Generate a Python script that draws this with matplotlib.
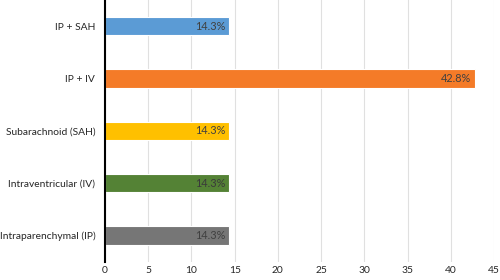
import matplotlib.pyplot as plt

plt.rcParams['font.family'] = ['Lato', 'DejaVu Sans']

# categories listed bottom to top
categories = ['Intraparenchymal (IP)', 'Intraventricular (IV)', 'Subarachnoid (SAH)',
              'IP + IV', 'IP + SAH']
values = [14.3, 14.3, 14.3, 42.8, 14.3]
labels = ['14.3%', '14.3%', '14.3%', '42.8%', '14.3%']
colors = ['#767676', '#548235', '#FFC000', '#F47B28', '#5B9BD5']
label_colors = ['#404040', '#3a3a3a', '#404040', '#404040', '#404040']

fig = plt.figure(figsize=(5, 2.8), dpi=100)
ax = fig.add_axes([0.21, 0.065, 0.778, 0.935])

ypos = range(len(categories))
ax.barh(ypos, values, height=0.35, color=colors, edgecolor='white', linewidth=0.8, zorder=3)
for y, v, lab, c in zip(ypos, values, labels, label_colors):
    ax.text(v - 0.4, y, lab, ha='right', va='center', fontsize=7.8, color=c, zorder=4)

ax.set_xlim(0, 45)
ax.set_ylim(-0.5, len(categories) - 0.5)
ax.set_xticks(range(0, 50, 5))
ax.set_yticks(list(ypos))
ax.set_yticklabels(categories)
ax.tick_params(axis='both', length=0, labelsize=7.4, colors='#262626')
ax.tick_params(axis='y', pad=7)
ax.tick_params(axis='x', pad=3)
ax.xaxis.grid(True, color='#e0e0e0', linewidth=0.8, zorder=0)
for s in ['top', 'right', 'bottom']:
    ax.spines[s].set_visible(False)
ax.spines['left'].set_color('black')
ax.spines['left'].set_linewidth(1.5)
ax.spines['left'].set_zorder(5)

fig.savefig('out.png', dpi=100)
